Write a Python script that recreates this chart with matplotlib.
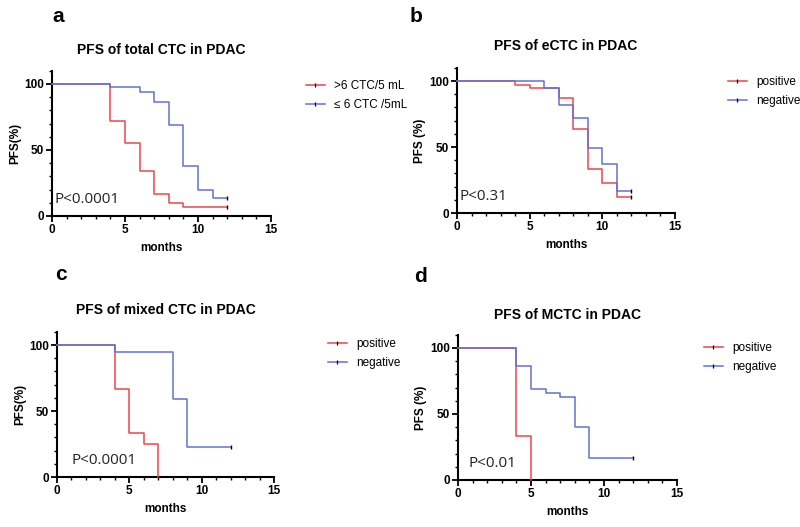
import matplotlib
matplotlib.use("Agg")
import matplotlib.pyplot as plt
from matplotlib.ticker import MultipleLocator

plt.rcParams['font.family'] = ['Liberation Sans', 'DejaVu Sans']

RED = '#e8474c'
BLUE = '#6470d2'

# step curves: times where PFS drops, and PFS values after each step
a_red_t = [0, 4, 5, 6, 7, 8, 9, 12]
a_red_s = [100, 72, 55, 34, 17, 10, 7, 7]
a_blue_t = [0, 4, 6, 7, 8, 9, 10, 11, 12]
a_blue_s = [100, 98, 94, 86, 69, 38, 20, 14, 14]

b_red_t = [0, 4, 5, 7, 8, 9, 10, 11, 12]
b_red_s = [100, 97, 95, 87, 64, 33, 23, 12, 12]
b_blue_t = [0, 6, 7, 8, 9, 10, 11, 12]
b_blue_s = [100, 95, 82, 72, 49, 37, 17, 17]

c_red_t = [0, 4, 5, 6, 7]
c_red_s = [100, 67, 33, 25, 0]
c_blue_t = [0, 4, 8, 9, 12]
c_blue_s = [100, 95, 59, 23, 23]

d_red_t = [0, 4, 5]
d_red_s = [100, 33, 0]
d_blue_t = [0, 4, 5, 6, 7, 8, 9, 12]
d_blue_s = [100, 86, 69, 66, 63, 40, 17, 17]

panels = [
    dict(letter='a', title='PFS of total CTC in PDAC', ylabel='PFS(%)', p='P<0.0001',
         red=(a_red_t, a_red_s), blue=(a_blue_t, a_blue_s),
         labels=['>6 CTC/5 mL', '≤ 6 CTC /5mL'], censor_red=True, censor_blue=True,
         box=(52, 271, 216, 84), leg=(300, 84), let=(52, 17), px=(0.15, 7), tpad=12),
    dict(letter='b', title='PFS of eCTC in PDAC', ylabel='PFS (%)', p='P<0.31',
         red=(b_red_t, b_red_s), blue=(b_blue_t, b_blue_s),
         labels=['positive', 'negative'], censor_red=True, censor_blue=True,
         box=(457, 675, 213, 81), leg=(722, 80), let=(410, 16), px=(0.2, 7), tpad=12.5),
    dict(letter='c', title='PFS of mixed CTC in PDAC', ylabel='PFS(%)', p='P<0.0001',
         red=(c_red_t, c_red_s), blue=(c_blue_t, c_blue_s),
         labels=['positive', 'negative'], censor_red=False, censor_blue=True,
         box=(57, 274, 477, 345), leg=(322, 342), let=(55, 274), px=(1.0, 7), tpad=12.5),
    dict(letter='d', title='PFS of MCTC in PDAC', ylabel='PFS (%)', p='P<0.01',
         red=(d_red_t, d_red_s), blue=(d_blue_t, d_blue_s),
         labels=['positive', 'negative'], censor_red=False, censor_blue=True,
         box=(458, 677, 480, 348), leg=(698, 346), let=(414, 276), px=(0.7, 7), tpad=11.7),
]

W, H = 800, 527
fig = plt.figure(figsize=(W / 100, H / 100), dpi=100)

for pn in panels:
    x0, x1, y0, y100 = pn['box']
    ytop = y100 - (y0 - y100) * 0.1
    ax = fig.add_axes([x0 / W, 1 - y0 / H, (x1 - x0) / W, (y0 - ytop) / H])
    for (t, s), col, cens, lab in [(pn['red'], RED, pn['censor_red'], pn['labels'][0]),
                                   (pn['blue'], BLUE, pn['censor_blue'], pn['labels'][1])]:
        ax.step(t, s, where='post', color=col, lw=1.1, clip_on=False, zorder=3)
        if cens:
            ax.plot([t[-1]], [s[-1]], marker='|', color='black', ms=3, mew=1.0, zorder=4, clip_on=False)
        ax.plot([], [], color=col, lw=1.1, marker='|', mec='black', ms=3, mew=0.9, label=lab)
    ax.set_xlim(0, 15)
    ax.set_ylim(0, 110)
    ax.spines['top'].set_visible(False)
    ax.spines['right'].set_visible(False)
    ax.spines['left'].set_linewidth(1.5)
    ax.spines['bottom'].set_linewidth(1.5)
    ax.spines['left'].set_bounds(0, 110)
    ax.set_xticks([0, 5, 10, 15])
    ax.set_yticks([0, 50, 100])
    ax.xaxis.set_minor_locator(MultipleLocator(1))
    ax.yaxis.set_minor_locator(MultipleLocator(10))
    ax.tick_params(which='major', length=4, width=1.3, labelsize=8.5, pad=2)
    ax.tick_params(which='minor', length=2.5, width=1.0)
    for lbl in ax.get_xticklabels() + ax.get_yticklabels():
        lbl.set_fontweight('bold')
    ax.set_xlabel('months', fontsize=8.5, fontweight='bold', labelpad=4)
    ax.set_ylabel(pn['ylabel'], fontsize=8.5, fontweight='bold', labelpad=2)
    ax.set_title(pn['title'], fontsize=10, fontweight='bold', pad=pn['tpad'])
    ax.text(pn['px'][0], pn['px'][1], pn['p'], fontsize=11, family=['Open Sans', 'DejaVu Sans'],
            color='#222222', va='bottom', ha='left')
    lx, ly = pn['leg']
    ax.legend(loc='upper left', bbox_to_anchor=(lx / W, 1 - (ly - 10) / H),
              bbox_transform=fig.transFigure, frameon=False, fontsize=8.5,
              handlelength=1.6, handletextpad=0.8, labelspacing=0.6, borderpad=0)
    fig.text(pn['let'][0] / W, 1 - pn['let'][1] / H, pn['letter'], fontsize=15,
             fontweight='bold', va='center', ha='left')

fig.savefig('out.png', dpi=100)
